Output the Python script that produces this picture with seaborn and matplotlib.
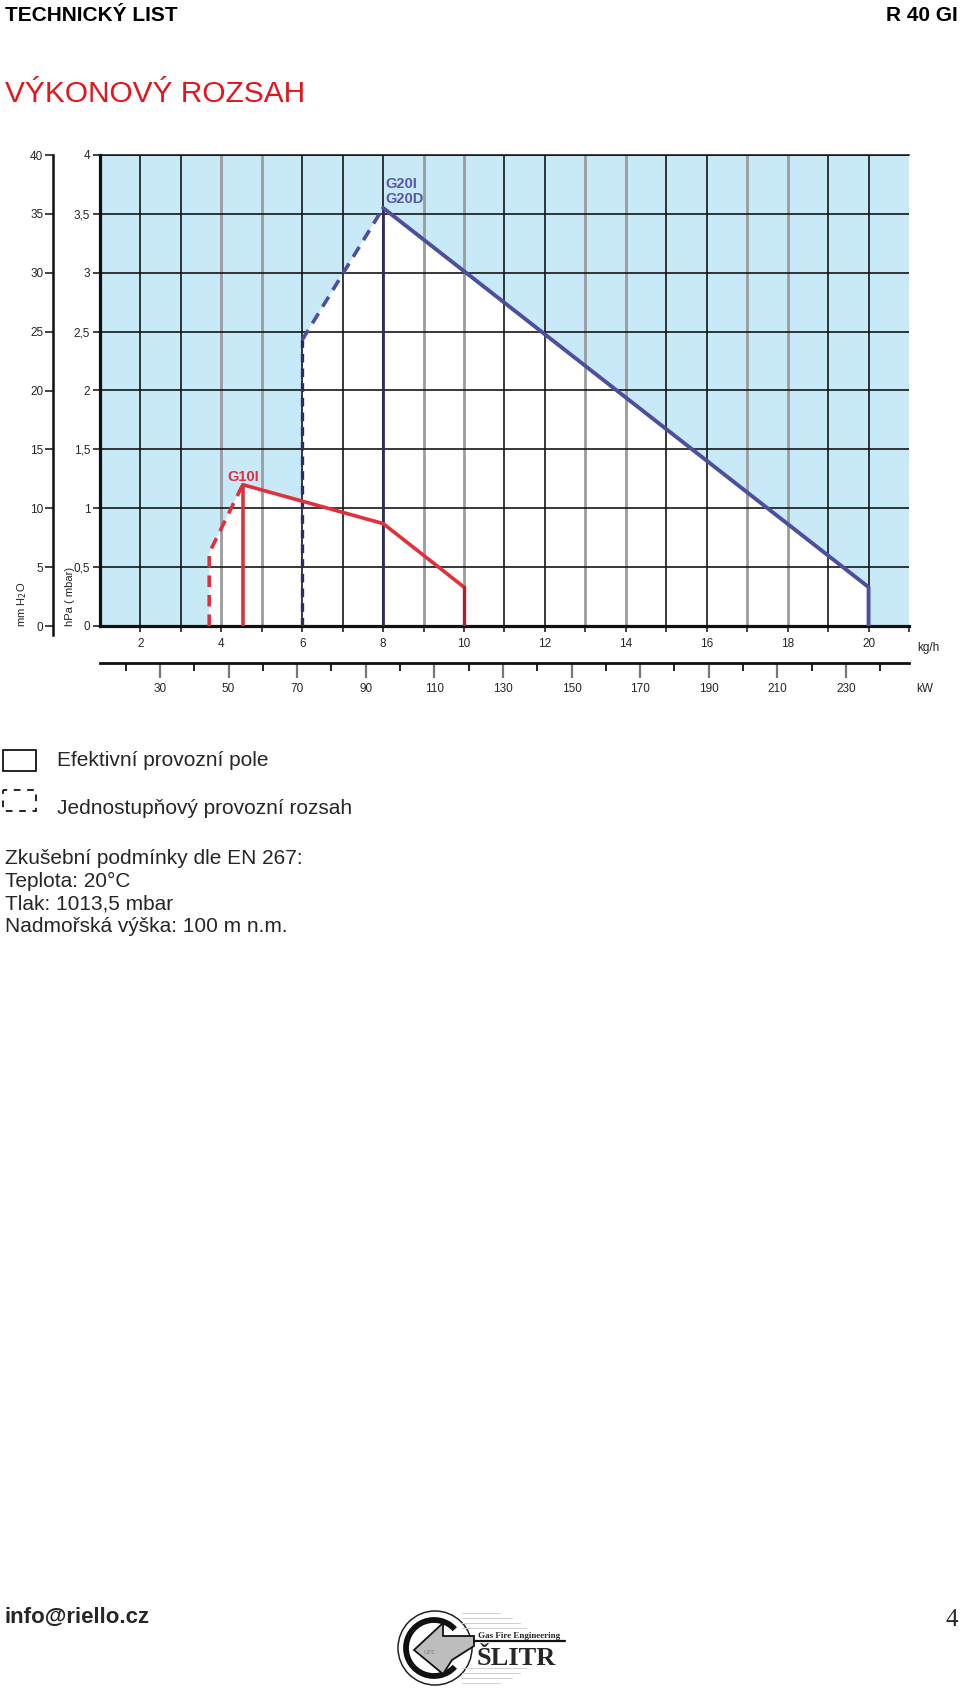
import matplotlib
matplotlib.use("Agg")
import matplotlib.pyplot as plt
import seaborn as sns
from matplotlib.patches import Rectangle, Circle, Arc, Polygon

W, H = 960, 1692

# values (kg/h against hPa)
g20_kg = [6.0, 6.0, 8.0, 20.0, 20.0]
g20_hpa = [0.0, 2.43, 3.55, 0.33, 0.0]
g10_kg = [3.7, 3.7, 4.53, 8.0, 10.0, 10.0]
g10_hpa = [0.0, 0.62, 1.20, 0.87, 0.33, 0.0]

kg_ticks = [2, 4, 6, 8, 10, 12, 14, 16, 18, 20]
kg_minor = [3, 5, 7, 9, 11, 13, 15, 17, 19, 21]
hpa_ticks = [0, 0.5, 1, 1.5, 2, 2.5, 3, 3.5, 4]
hpa_labels = ["0", "0,5", "1", "1,5", "2", "2,5", "3", "3,5", "4"]
mm_ticks = [0, 5, 10, 15, 20, 25, 30, 35, 40]
kw_ticks = [30, 50, 70, 90, 110, 130, 150, 170, 190, 210, 230]
kw_minor = [20, 40, 60, 80, 100, 120, 140, 160, 180, 200, 220, 240]
grid_dark = [2, 3, 6, 7, 8, 11, 12, 15, 16, 19, 20]
grid_light = [4, 5, 9, 10, 13, 14, 17, 18]

BLUE_BG = "#c7e9f8"
G20_COL = "#4c4f9e"
G20_DARK = "#2b2e5e"
RED = "#e2303a"
RED_DARK = "#b0202c"
NARROW = ["Liberation Sans Narrow", "Liberation Sans", "DejaVu Sans"]

sns.set_theme(style="white")
plt.rcParams["font.family"] = ["Liberation Sans", "DejaVu Sans"]


def fig_rect(x0, y0, x1, y1):
    return [x0 / W, 1 - y1 / H, (x1 - x0) / W, (y1 - y0) / H]


fig = plt.figure(figsize=(W / 100, H / 100), dpi=100)
fig.patch.set_facecolor("white")

# main chart
ax = fig.add_axes(fig_rect(100, 155, 909, 626))
ax.set_facecolor(BLUE_BG)
ax.set_xlim(1, 21)
ax.set_ylim(0, 4)
ax.fill(g20_kg, g20_hpa, color="white", zorder=1, lw=0)
ax.fill(g10_kg, g10_hpa, color="white", zorder=1, lw=0)
for x in grid_dark:
    ax.axvline(x, color="#161616", lw=1.2, zorder=2)
for x in grid_light:
    ax.axvline(x, color="#9c9c9c", lw=2.0, zorder=2)
for y in hpa_ticks[1:]:
    ax.axhline(y, color="#161616", lw=1.2, zorder=2)

# G20 envelope
sns.lineplot(x=g20_kg[:2], y=g20_hpa[:2], ax=ax, sort=False, estimator=None,
             color=G20_DARK, lw=2.4, linestyle=(0, (2.6, 1.8)), zorder=4)
sns.lineplot(x=g20_kg[1:3], y=g20_hpa[1:3], ax=ax, sort=False, estimator=None,
             color=G20_COL, lw=2.6, linestyle=(0, (3.2, 2.2)), zorder=4)
sns.lineplot(x=g20_kg[2:], y=g20_hpa[2:], ax=ax, sort=False, estimator=None,
             color=G20_COL, lw=2.8, zorder=4)
sns.lineplot(x=[g20_kg[2], g20_kg[2]], y=[0, g20_hpa[2]], ax=ax, sort=False,
             estimator=None, color=G20_DARK, lw=2.0, zorder=3)

# G10 envelope
sns.lineplot(x=g10_kg[:3], y=g10_hpa[:3], ax=ax, sort=False, estimator=None,
             color=RED, lw=2.6, linestyle=(0, (3.2, 2.2)), zorder=4)
sns.lineplot(x=g10_kg[2:5], y=g10_hpa[2:5], ax=ax, sort=False, estimator=None,
             color=RED, lw=2.6, zorder=4)
sns.lineplot(x=g10_kg[4:], y=g10_hpa[4:], ax=ax, sort=False, estimator=None,
             color=RED_DARK, lw=2.4, zorder=4)
sns.lineplot(x=[g10_kg[2], g10_kg[2]], y=[0, g10_hpa[2]], ax=ax, sort=False,
             estimator=None, color=RED, lw=2.6, zorder=4)

ax.text(g10_kg[2], g10_hpa[2] + 0.03, "G10I", color=RED, fontsize=10.5,
        fontweight="bold", ha="center", va="baseline", zorder=5)
ax.text(g20_kg[2] + 0.06, g20_hpa[2] + 0.17, "G20I", color="#5658a4",
        fontsize=10.5, fontweight="bold", ha="left", va="baseline", zorder=5)
ax.text(g20_kg[2] + 0.06, g20_hpa[2] + 0.045, "G20D", color="#5658a4",
        fontsize=10.5, fontweight="bold", ha="left", va="baseline", zorder=5)

ax.set_xlabel("")
ax.set_ylabel("")
ax.set_xticks(kg_ticks)
ax.set_xticks(kg_minor, minor=True)
ax.set_xticklabels([str(v) for v in kg_ticks])
ax.set_yticks(hpa_ticks)
ax.set_yticklabels(hpa_labels)
ax.tick_params(axis="x", which="both", direction="out", length=4.5, width=1.2,
               color="#222222", pad=4, labelsize=8.5, bottom=True)
ax.tick_params(axis="y", which="major", direction="out", length=5, width=1.2,
               color="#222222", pad=2, labelsize=8.5, left=True)
for lab in ax.get_xticklabels() + ax.get_yticklabels():
    lab.set_family(NARROW)
for side in ["left", "bottom"]:
    ax.spines[side].set_linewidth(2.3)
    ax.spines[side].set_color("#111111")
ax.spines["top"].set_linewidth(1.1)
ax.spines["top"].set_color("#111111")
ax.spines["right"].set_visible(False)
ax.grid(False)

# mm H2O scale on the far left
ax_mm = fig.add_axes(fig_rect(53, 155, 54, 635))
ax_mm.set_ylim(-40 * 9 / 471, 40)
ax_mm.set_xticks([])
ax_mm.set_yticks(mm_ticks)
ax_mm.set_yticklabels([str(v) for v in mm_ticks])
ax_mm.patch.set_alpha(0)
for side in ["top", "right", "bottom"]:
    ax_mm.spines[side].set_visible(False)
ax_mm.spines["left"].set_linewidth(1.8)
ax_mm.spines["left"].set_color("#111111")
ax_mm.tick_params(axis="y", direction="out", length=6, width=1.2,
                  color="#222222", pad=1, labelsize=8.5, left=True)
for lab in ax_mm.get_yticklabels():
    lab.set_family(NARROW)

# kW scale below
ax_kw = fig.add_axes(fig_rect(100, 662, 909, 663))
ax_kw.set_xlim(12.5, 248.4)
ax_kw.set_yticks([])
ax_kw.set_xticks(kw_ticks)
ax_kw.set_xticks(kw_minor, minor=True)
ax_kw.set_xticklabels([str(v) for v in kw_ticks])
ax_kw.patch.set_alpha(0)
for side in ["top", "right", "left"]:
    ax_kw.spines[side].set_visible(False)
ax_kw.spines["bottom"].set_linewidth(2.0)
ax_kw.spines["bottom"].set_color("#111111")
ax_kw.tick_params(axis="x", which="major", direction="out", length=11,
                  width=1.6, color="#777777", pad=3.5, labelsize=8.5,
                  bottom=True)
ax_kw.tick_params(axis="x", which="minor", direction="out", length=6,
                  width=1.4, color="#222222", bottom=True)
for lab in ax_kw.get_xticklabels():
    lab.set_family(NARROW)

# overlay in pixel coordinates for page text, legend and logo
ov = fig.add_axes([0, 0, 1, 1])
ov.set_xlim(0, W)
ov.set_ylim(H, 0)
ov.axis("off")
ov.patch.set_alpha(0)

ov.text(70, 626, "hPa ( mbar)", rotation=90, ha="center", va="bottom",
        fontsize=8, family=NARROW, color="#222222")
ov.text(22, 627, "mm H$_2$O", rotation=90, ha="center", va="bottom",
        fontsize=8, family=NARROW, color="#222222")
ov.text(917, 648, "kg/h", ha="left", va="center", fontsize=8.5, family=NARROW,
        color="#222222")
ov.text(916, 689, "kW", ha="left", va="center", fontsize=8.5, family=NARROW,
        color="#222222")

ov.text(5, 21, "TECHNICKÝ LIST", fontsize=15, fontweight="bold", ha="left",
        va="baseline", color="black")
ov.text(958, 21, "R 40 GI", fontsize=15, fontweight="bold", ha="right",
        va="baseline", color="black")
ov.text(5, 102, "VÝKONOVÝ ROZSAH", fontsize=21.5, ha="left", va="baseline",
        color="#e8141c")

ov.add_patch(Rectangle((3, 750), 33, 21, fill=False, ec="black", lw=1.2))
ov.add_patch(Rectangle((3, 790), 33, 21, fill=False, ec="black", lw=1.2,
                       linestyle=(1.5, (4, 4))))
ov.text(57, 766, "Efektivní provozní pole", fontsize=15, ha="left",
        va="baseline")
ov.text(57, 814, "Jednostupňový provozní rozsah", fontsize=15, ha="left",
        va="baseline")
cond_lines = ["Zkušební podmínky dle EN 267:", "Teplota: 20°C",
              "Tlak: 1013,5 mbar", "Nadmořská výška: 100 m n.m."]
for i, line in enumerate(cond_lines):
    ov.text(5, 864 + i * 22.7, line, fontsize=15, ha="left", va="baseline")

ov.text(5, 1623, "info@riello.cz", fontsize=16, fontweight="bold", ha="left",
        va="baseline")
ov.text(958, 1626, "4", fontsize=18, family="Liberation Serif", ha="right",
        va="baseline")

# logo
for x1, yy in [(500, 1613), (512, 1618), (520, 1623), (526, 1628),
               (526, 1668), (520, 1673), (512, 1678), (500, 1683)]:
    ov.plot([462, x1], [yy, yy], color="#cfcfcf", lw=0.7)
ov.add_patch(Circle((435, 1648), 37, fill=False, ec="#222222", lw=1.1))
ov.add_patch(Arc((434, 1648), 56, 56, theta1=42, theta2=318, lw=4.2,
                 color="#111111"))
ov.add_patch(Polygon([(414, 1650), (443, 1623), (443, 1636), (474, 1636),
                      (474, 1646), (452, 1660), (443, 1674)],
                     closed=True, fc="#bdbdbd", ec="#111111", lw=1.3))
ov.plot([474, 565], [1641, 1641], color="#111111", lw=1.6)
ov.text(430, 1653, "GFE", fontsize=4.5, color="#777777", ha="center",
        va="center", family="Liberation Serif")
ov.text(478, 1638, "Gas Fire Engineering", fontsize=6.5, fontweight="bold",
        family="Liberation Serif", ha="left", va="baseline")
ov.text(477, 1665, "ŠLITR", fontsize=19, fontweight="bold",
        family="Liberation Serif", ha="left", va="baseline")

fig.savefig("out.png", dpi=100)
